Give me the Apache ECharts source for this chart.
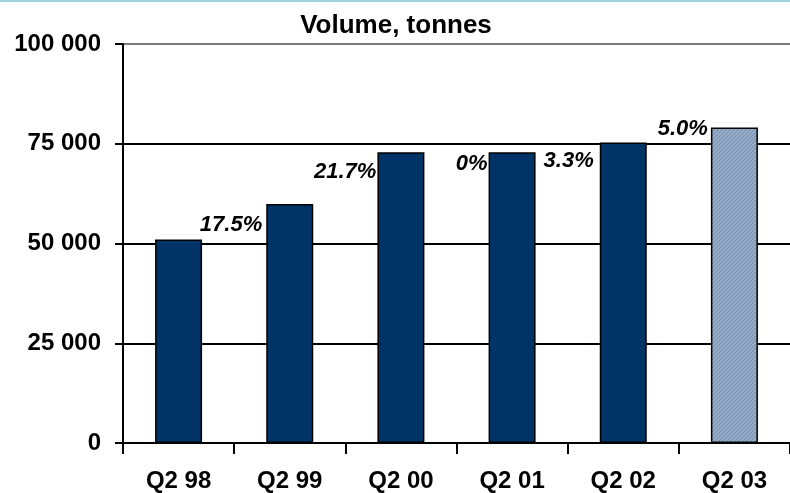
<!DOCTYPE html>
<html>
<head>
<meta charset="utf-8">
<style>
  html, body { margin: 0; padding: 0; background: #fff; }
  #chart { width: 790px; height: 493px; }
</style>
<script src="https://cdn.jsdelivr.net/npm/echarts@6/dist/echarts.min.js"></script>
</head>
<body>
<div id="chart"></div>
<script>
// Quarterly volume, tonnes
const categories = ['Q2 98', 'Q2 99', 'Q2 00', 'Q2 01', 'Q2 02', 'Q2 03'];
const volumes = [51000, 59900, 72900, 72900, 75300, 79100];
const growthLabels = ['', '17.5%', '21.7%', '0%', '3.3%', '5.0%'];
const yTicks = [0, 25000, 50000, 75000, 100000];

// Where each growth label sits relative to its bar's top-left corner
const labelNudge = [[0, 0], [-4, 21], [-1, 20], [-1, 11.5], [-6, 18.5], [-3, 1.5]];

const FONT = '"Liberation Sans", Arial, sans-serif';

// Fine hatched fill for the latest quarter
function hatchPattern() {
  const c = document.createElement('canvas');
  c.width = 4; c.height = 4;
  const g = c.getContext('2d');
  g.fillStyle = '#93abc6';
  g.fillRect(0, 0, 4, 4);
  g.fillStyle = '#7690b0';
  g.fillRect(0, 3, 1, 1);
  g.fillRect(1, 2, 1, 1);
  g.fillRect(2, 1, 1, 1);
  g.fillRect(3, 0, 1, 1);
  return c;
}

function spaced(v) {
  return String(v).replace(/\B(?=(\d{3})+(?!\d))/g, ' ');
}

const barData = volumes.map((v, i) => {
  const item = { value: v };
  if (i === volumes.length - 1) {
    item.itemStyle = { color: { image: hatchPattern(), repeat: 'repeat' } };
  }
  item.label = growthLabels[i]
    ? { show: true, formatter: growthLabels[i], position: labelNudge[i] }
    : { show: false };
  return item;
});

const chart = echarts.init(document.getElementById('chart'), null, { renderer: 'canvas' });
chart.setOption({
  animation: false,
  backgroundColor: '#fff',
  title: {
    text: 'Volume, tonnes',
    left: 391,
    textAlign: 'center',
    top: 8,
    textStyle: { fontFamily: FONT, fontWeight: 'bold', fontSize: 26, color: '#000' }
  },
  graphic: [{
    type: 'rect',
    shape: { x: 0, y: 0, width: 790, height: 2 },
    style: { fill: '#9fd2d6' }
  }],
  grid: { left: 123, top: 44, width: 672, height: 400 },
  xAxis: {
    type: 'category',
    data: categories,
    boundaryGap: true,
    axisLine: { lineStyle: { color: '#000', width: 2 } },
    axisTick: { show: true, alignWithLabel: false, length: 11, lineStyle: { color: '#000', width: 2 } },
    axisLabel: { margin: 26, color: '#000', fontFamily: FONT, fontWeight: 'bold', fontSize: 24 }
  },
  yAxis: {
    type: 'value',
    min: yTicks[0],
    max: yTicks[yTicks.length - 1],
    interval: yTicks[1] - yTicks[0],
    axisLine: { show: true, lineStyle: { color: '#000', width: 2 } },
    axisTick: { show: true, length: 8, lineStyle: { color: '#000', width: 2 } },
    axisLabel: {
      margin: 22, color: '#000', fontFamily: FONT, fontWeight: 'bold', fontSize: 24,
      formatter: spaced
    },
    splitLine: { show: true, lineStyle: { color: ['#000', '#000', '#000', '#000', '#7a7a7a'], width: 2 } }
  },
  series: [{
    type: 'bar',
    data: barData,
    barWidth: 47,
    itemStyle: { color: '#003366', borderColor: '#000', borderWidth: 1.5 },
    label: {
      align: 'right',
      verticalAlign: 'middle',
      color: '#000',
      fontFamily: FONT,
      fontStyle: 'italic',
      fontWeight: 'bold',
      fontSize: 22
    }
  }]
});
</script>
</body>
</html>
